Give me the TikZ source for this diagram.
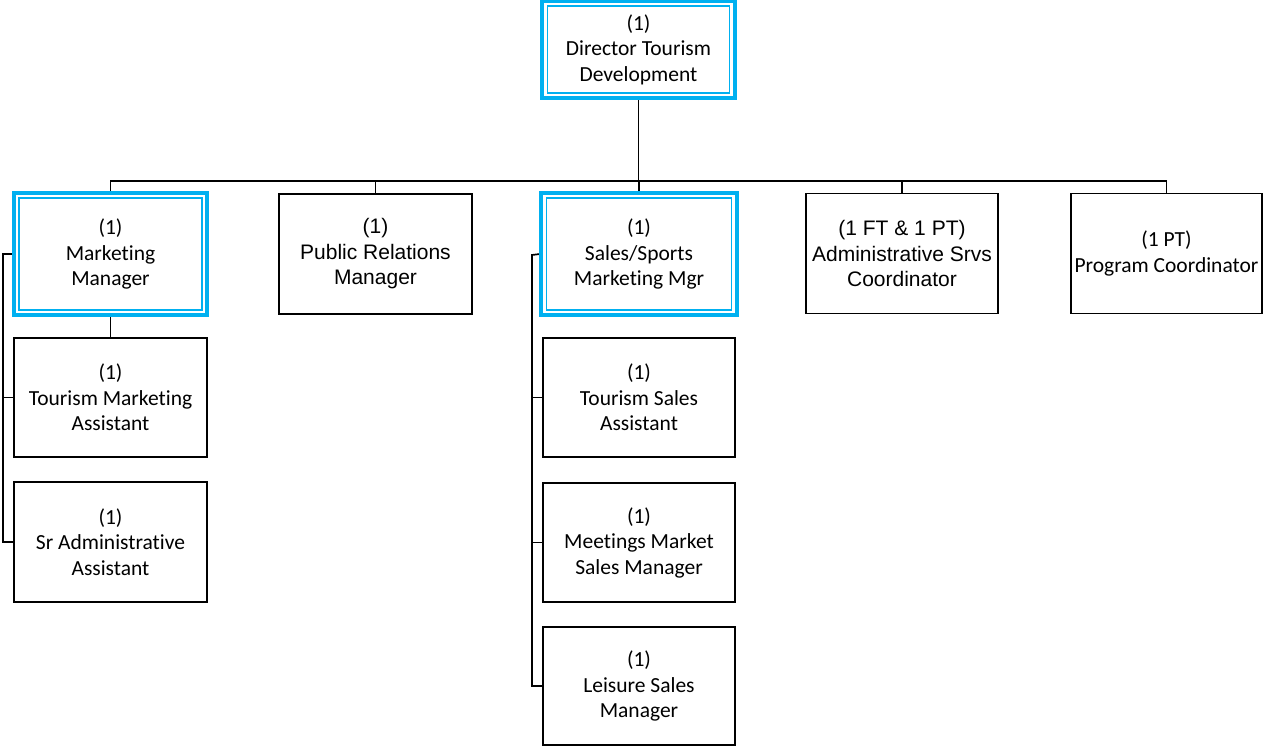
\documentclass[tikz,border=0pt]{standalone}
\usepackage{fontspec}
\setmainfont[Ligatures=CommonOff]{Carlito}
\newfontfamily\arialf{Liberation Sans}
\definecolor{frameblue}{RGB}{0,176,240}
\tikzset{
  box/.style={draw=black, line width=1.5pt, rectangle, align=center, inner sep=0pt,
    font=\fontsize{21.5}{25.5}\selectfont, fill=white},
  bluebox/.style={box, draw=frameblue, line width=1.6pt},
  frame/.style={draw=frameblue, line width=4pt},
  conn/.style={draw=black, line width=1.7pt},
  ar/.style={font=\arialf\fontsize{21}{25.5}\selectfont}
}
\begin{document}
\begin{tikzpicture}[x=1pt,y=-1pt]
\useasboundingbox (0,0) rectangle (1264,748);
% nodes
\node[bluebox, minimum width=182pt, minimum height=87pt] (dir) at (638.5,49.5) {(1)\\Director Tourism\\Development};
\node[bluebox, minimum width=183pt, minimum height=112pt] (mm) at (110.5,254) {(1)\\Marketing\\Manager};
\node[box, ar, minimum width=193pt, minimum height=120pt] (pr) at (375.5,254) {(1)\\Public Relations\\Manager};
\node[bluebox, minimum width=185pt, minimum height=112pt] (ss) at (639,254) {(1)\\Sales/Sports\\Marketing Mgr};
\node[box, ar, minimum width=192pt, minimum height=120pt] (ad) at (902,253.5) {(1 FT \& 1 PT)\\Administrative Srvs\\Coordinator};
\node[box, minimum width=191pt, minimum height=120pt] (pc) at (1166.5,253.5) {(1 PT)\\Program Coordinator};
\node[box, minimum width=193pt, minimum height=119pt] (tma) at (110.5,397.5) {(1)\\Tourism Marketing\\Assistant};
\node[box, minimum width=193pt, minimum height=120pt] (sra) at (110.5,542) {(1)\\Sr Administrative\\Assistant};
\node[box, minimum width=192pt, minimum height=119pt] (tsa) at (639,397.5) {(1)\\Tourism Sales\\Assistant};
\node[box, minimum width=192pt, minimum height=119pt] (mms) at (639,542.5) {(1)\\Meetings Market\\Sales Manager};
\node[box, minimum width=192pt, minimum height=118pt] (lsm) at (639,686) {(1)\\Leisure Sales\\Manager};
% bus
\coordinate (bus) at (638.5,181);
\draw[conn] ([yshift=-6pt]dir.south) -- (bus);
\draw[conn] ([yshift=6pt]mm.north) |- (bus);
\draw[conn] (pr.north) |- (bus);
\draw[conn] ([yshift=6pt]ss.north) -- (ss.north |- bus);
\draw[conn] (ad.north) |- (bus);
\draw[conn] (pc.north) |- (bus);
% marketing branch
\coordinate (ml) at (3,254);
\draw[conn] ([yshift=-6pt]mm.south) -- (tma.north);
\draw[conn] ([xshift=-6pt]mm.west) -- (ml) |- (sra.west);
\draw[conn] (ml) |- (tma.west);
% sales branch
\coordinate (sl) at (532,255);
\draw[conn] ([xshift=-6pt]ss.west) -- (sl) |- (lsm.west);
\draw[conn] (sl) |- (tsa.west);
\draw[conn] (sl) |- (mms.west);
% outer frames
\draw[frame] ([shift={(-4.5pt,4.5pt)}]dir.north west) rectangle ([shift={(4.5pt,-4.5pt)}]dir.south east);
\draw[frame] ([shift={(-4.5pt,4.5pt)}]mm.north west) rectangle ([shift={(4.5pt,-4.5pt)}]mm.south east);
\draw[frame] ([shift={(-4.5pt,4.5pt)}]ss.north west) rectangle ([shift={(4.5pt,-4.5pt)}]ss.south east);
\end{tikzpicture}
\end{document}
